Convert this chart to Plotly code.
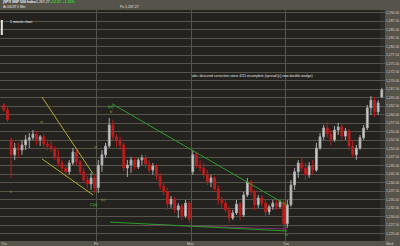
import plotly.graph_objects as go

# ---------------- data ----------------
day_labels = ["Thu", "Fri", "Mon", "Tue", "Wed"]
bars_per_day = 26

opens = [
    1262.9, 1261.4, 1252.6, 1248.2, 1250.2, 1249.6, 1251.1, 1252.6, 1253.2, 1254.3, 1252.6, 1253.5, 1251.4,
    1250.8, 1249.9, 1247.6, 1245.8, 1244.3, 1243.2, 1245.8, 1249.0, 1246.1, 1243.2, 1240.8, 1239.6, 1241.4,
    1238.5, 1245.2, 1248.2, 1250.8, 1257.0, 1253.5, 1252.6, 1251.1, 1244.3, 1245.2, 1246.7, 1244.6, 1246.7,
    1247.3, 1245.5, 1243.7, 1244.9, 1242.0, 1239.0, 1237.3, 1233.7, 1235.2, 1232.0, 1233.2, 1230.2, 1234.0,
    1243.2, 1248.2, 1245.2, 1244.3, 1242.3, 1240.2, 1241.4, 1238.2, 1234.9, 1234.0, 1232.0, 1229.6, 1231.1,
    1233.7, 1230.5, 1236.4, 1240.2, 1237.3, 1233.5, 1235.5, 1234.0, 1231.4, 1232.9, 1234.0, 1232.9, 1234.3,
    1227.9, 1233.5, 1239.3, 1243.2, 1245.8, 1244.3, 1242.3, 1244.9, 1243.7, 1250.2, 1253.5, 1256.1, 1254.3,
    1252.6, 1255.5, 1256.4, 1253.7, 1255.2, 1250.8, 1248.2, 1250.2, 1253.2, 1256.1, 1262.0, 1264.3, 1260.8,
    1265.2,
]
highs = [
    1263.5, 1262.6, 1253.2, 1251.7, 1251.7, 1252.6, 1254.0, 1254.6, 1255.5, 1255.2, 1254.0, 1254.3, 1252.6,
    1252.3, 1250.8, 1249.6, 1246.7, 1245.5, 1246.7, 1250.2, 1249.6, 1246.7, 1244.3, 1242.0, 1242.9, 1242.3,
    1246.7, 1249.6, 1251.7, 1259.0, 1258.5, 1254.3, 1253.5, 1251.7, 1246.7, 1247.6, 1247.6, 1247.3, 1248.2,
    1248.2, 1246.7, 1245.8, 1245.5, 1242.9, 1240.2, 1238.5, 1236.1, 1235.8, 1234.0, 1233.7, 1234.9, 1234.6,
    1249.6, 1249.0, 1246.7, 1245.8, 1243.7, 1242.3, 1242.0, 1239.3, 1235.8, 1234.9, 1232.9, 1232.0, 1234.9,
    1234.3, 1237.3, 1241.4, 1240.8, 1237.9, 1236.4, 1236.4, 1234.9, 1233.5, 1234.9, 1234.9, 1234.9, 1234.9,
    1234.9, 1240.8, 1244.3, 1246.7, 1247.3, 1245.8, 1246.1, 1246.7, 1251.7, 1254.6, 1257.0, 1257.9, 1255.5,
    1256.7, 1257.6, 1257.3, 1256.1, 1255.8, 1252.6, 1251.1, 1254.0, 1257.0, 1262.9, 1265.5, 1265.2, 1264.3,
    1267.9,
]
lows = [
    1260.8, 1257.9, 1241.4, 1246.7, 1247.3, 1248.2, 1249.6, 1250.2, 1252.6, 1251.1, 1250.8, 1250.2, 1249.6,
    1249.0, 1246.7, 1244.6, 1243.2, 1241.7, 1242.3, 1245.2, 1245.2, 1242.3, 1239.9, 1238.5, 1237.9, 1237.0,
    1237.0, 1243.2, 1247.3, 1250.2, 1252.6, 1250.5, 1249.6, 1243.2, 1241.7, 1242.9, 1243.7, 1244.0, 1245.2,
    1244.3, 1242.9, 1242.3, 1240.8, 1237.9, 1236.4, 1232.0, 1232.6, 1231.1, 1229.6, 1229.0, 1229.6, 1228.2,
    1242.3, 1244.3, 1243.2, 1241.4, 1239.3, 1238.7, 1237.3, 1233.5, 1232.6, 1231.4, 1228.2, 1229.0, 1230.5,
    1229.0, 1229.9, 1235.8, 1236.4, 1232.0, 1232.6, 1232.9, 1229.9, 1230.5, 1232.0, 1232.0, 1232.6, 1226.1,
    1226.7, 1232.9, 1237.9, 1241.4, 1243.2, 1240.8, 1241.4, 1242.3, 1243.2, 1249.6, 1252.6, 1253.2, 1251.1,
    1252.0, 1254.0, 1252.6, 1252.6, 1249.6, 1247.3, 1246.7, 1249.6, 1252.6, 1255.5, 1259.9, 1259.3, 1259.9,
    1264.9,
]
closes = [
    1261.4, 1258.5, 1248.2, 1250.2, 1249.6, 1251.1, 1252.6, 1253.2, 1254.3, 1252.6, 1253.5, 1251.4, 1250.8,
    1249.9, 1247.6, 1245.8, 1244.3, 1243.2, 1245.8, 1249.0, 1246.1, 1243.2, 1240.8, 1239.6, 1241.4, 1238.5,
    1245.2, 1248.2, 1250.8, 1257.0, 1253.5, 1252.6, 1251.1, 1244.3, 1245.2, 1246.7, 1244.6, 1246.7, 1247.3,
    1245.5, 1243.7, 1244.9, 1242.0, 1239.0, 1237.3, 1233.7, 1235.2, 1232.0, 1233.2, 1230.2, 1234.0, 1229.3,
    1248.2, 1245.2, 1244.3, 1242.3, 1240.2, 1241.4, 1238.2, 1234.9, 1234.0, 1232.0, 1229.6, 1231.1, 1233.7,
    1230.5, 1236.4, 1240.2, 1237.3, 1233.5, 1235.5, 1234.0, 1231.4, 1232.9, 1234.0, 1232.9, 1234.3, 1227.9,
    1233.5, 1239.3, 1243.2, 1245.8, 1244.3, 1242.3, 1244.9, 1243.7, 1250.2, 1253.5, 1256.1, 1254.3, 1252.6,
    1255.5, 1256.4, 1253.7, 1255.2, 1250.8, 1248.2, 1250.2, 1253.2, 1256.1, 1262.0, 1264.3, 1260.8, 1263.5,
    1267.3,
]

ytick_vals = [1290.0, 1287.5, 1285.0, 1282.5, 1280.0, 1277.5, 1275.0, 1272.5, 1270.0, 1267.5, 1265.0,
              1262.5, 1260.0, 1257.5, 1255.0, 1252.5, 1250.0, 1247.5, 1245.0, 1242.5, 1240.0, 1237.5,
              1235.0, 1232.5, 1230.0, 1227.5, 1225.0]
ytick_text = ["1,290.00", "1,287.50", "1,285.00", "1,282.50", "1,280.00", "1,277.50", "1,275.00",
              "1,272.50", "1,270.00", "1,267.50", "1,265.00", "1,262.50", "1,260.00", "1,257.50",
              "1,255.00", "1,252.50", "1,250.00", "1,247.50", "1,245.00", "1,242.50", "1,240.00",
              "1,237.50", "1,235.00", "1,232.50", "1,230.00", "1,227.50", "1,225.00"]

# trend lines (x in sessions, y in index points)
yellow_a_x = [0.423, 0.963]; yellow_a_y = [1265.2, 1242.6]
yellow_b_x = [0.423, 0.963]; yellow_b_y = [1247.0, 1236.4]
green_top_x = [1.164, 3.016]; green_top_y = [1263.2, 1233.4]
green_bot_x = [1.143, 3.016]; green_bot_y = [1228.4, 1225.8]
purple_x = [1.566, 3.016]; purple_y = [1227.6, 1226.4]

# wave labels (x session, y price, text, colour-kind)
wave_labels = [
    (0.42, 1257.9, "iv", "olive"),
    (0.09, 1237.3, "ii", "olive"),
    (0.99, 1250.5, "iv", "olive"),
    (1.07, 1235.2, "(c)", "olive"),
    (0.97, 1233.5, "C(ii)", "green"),
    (1.155, 1262.3, "(iii)", "green"),
    (1.155, 1260.8, "b", "olive"),
    (3.01, 1224.9, "iv", "green"),
]

# ---------------- figure ----------------
x = [(i // bars_per_day) + ((i % bars_per_day) + 0.5) / bars_per_day for i in range(len(closes))]

BG = "#56534a"
PLOT = "#23221e"
GRID = "#57544c"
TXT = "#d4d2cc"

fig = go.Figure()
fig.add_trace(go.Scatter(x=purple_x, y=purple_y, mode="lines",
                         line=dict(color="#7a2d6e", width=1), hoverinfo="skip"))
for lx, ly, col in [(yellow_a_x, yellow_a_y, "#b3ad2c"), (yellow_b_x, yellow_b_y, "#b3ad2c"),
                    (green_top_x, green_top_y, "#2e9e2a"), (green_bot_x, green_bot_y, "#2e9e2a")]:
    fig.add_trace(go.Scatter(x=lx, y=ly, mode="lines", line=dict(color=col, width=1), hoverinfo="skip"))

fig.add_trace(go.Candlestick(
    x=x, open=opens, high=highs, low=lows, close=closes,
    increasing=dict(line=dict(color="#a9a9a9", width=1), fillcolor="#d8d8d8"),
    decreasing=dict(line=dict(color="#b81c1c", width=1), fillcolor="#c41e1e"),
    whiskerwidth=0,
))

annotations = []
for wx, wy, wt, kind in wave_labels:
    annotations.append(dict(x=wx, y=wy, xref="x", yref="y", text=wt, showarrow=False,
                            font=dict(size=4, color="#3dc83d" if kind == "green" else "#a59f38",
                                      family="Arial"),
                            xanchor="center", yanchor="middle"))

W, L0, T0, PW, PH = 400, 0, 10, 385, 231


def px(xp):
    return (xp - L0) / PW


def py(yp):
    return 1 - (yp - T0) / PH


def note(xp, yp, text, color=TXT, size=3.5, anchor="left"):
    annotations.append(dict(x=px(xp), y=py(yp), xref="paper", yref="paper", text=text,
                            showarrow=False, font=dict(size=size, color=color, family="Arial"),
                            xanchor=anchor, yanchor="middle"))


note(1, 2.5, "<b>|SPX SNP 500 Index</b>", "#f0f0f0")
note(34, 2.5, "1,267.27", "#f0f0f0")
note(48, 2.5, "<b>+12.53  +1.00%</b>", "#31d02c")
note(1, 6.8, "At 06/29 5 Min", "#e0e0e0")
note(118, 6.8, "Px 1,267.27", "#e0e0e0")
note(8, 21.5, "1 minute chart", "#f2f2f2")
note(190, 76.5, "abc: descend correction since 4/11 incomplete (spread [c] new double wedge)", "#e4e4e4")

for lx, lbl in zip([4, 96, 190, 286, 390], day_labels):
    note(lx, 243.6, lbl, TXT, 3.5, "center")

shapes = [
    dict(type="rect", xref="paper", yref="paper", x0=px(380), x1=px(385), y0=0, y1=1,
         fillcolor="#2f2d29", line=dict(width=0), layer="below"),
    dict(type="rect", xref="paper", yref="paper", x0=px(0.8), x1=px(2.8), y0=py(35), y1=py(20),
         fillcolor="#e8e8e8", line=dict(width=0)),
]

fig.update_layout(
    width=400, height=246,
    margin=dict(l=0, r=15, t=10, b=5, pad=0),
    paper_bgcolor=BG, plot_bgcolor=PLOT,
    showlegend=False,
    annotations=annotations,
    shapes=shapes,
    xaxis=dict(range=[-0.0212, 4.053], tickvals=[1, 2, 3], showticklabels=False,
               showgrid=True, gridcolor=GRID, gridwidth=1, zeroline=False,
               rangeslider=dict(visible=False), showline=False, fixedrange=True),
    yaxis=dict(range=[1222.85, 1290.79], side="right", tickvals=ytick_vals, ticktext=ytick_text,
               showgrid=True, gridcolor=GRID, gridwidth=1, zeroline=False, ticks="",
               tickfont=dict(size=3.4, color=TXT, family="Arial"), showline=False, fixedrange=True),
)

fig.write_html("out.html")
